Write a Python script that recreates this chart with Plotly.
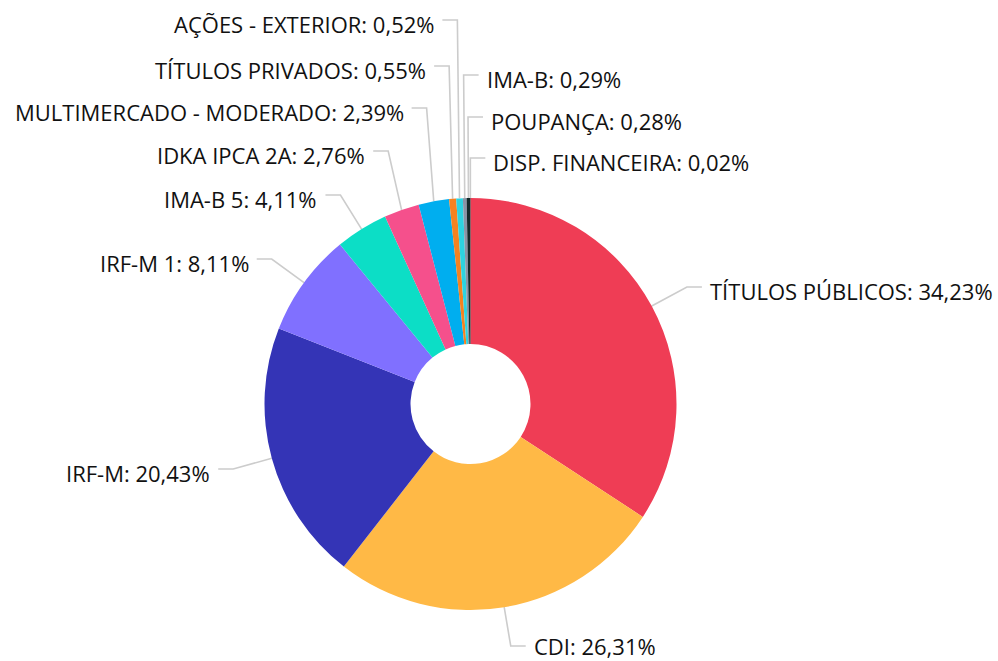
import math
import plotly.graph_objects as go

# ---- data ----
labels = ["TÍTULOS PÚBLICOS", "CDI", "IRF-M", "IRF-M 1", "IMA-B 5", "IDKA IPCA 2A",
          "MULTIMERCADO - MODERADO", "TÍTULOS PRIVADOS", "AÇÕES - EXTERIOR",
          "IMA-B", "POUPANÇA", "DISP. FINANCEIRA"]
values = [34.23, 26.31, 20.43, 8.11, 4.11, 2.76, 2.39, 0.55, 0.52, 0.29, 0.28, 0.02]
value_text = ["34,23%", "26,31%", "20,43%", "8,11%", "4,11%", "2,76%", "2,39%",
              "0,55%", "0,52%", "0,29%", "0,28%", "0,02%"]
colors = ["#EF3D55", "#FFB946", "#3434B6", "#8070FF", "#0CDEC6", "#F5508C",
          "#00AEEF", "#F58220", "#2DD3E0", "#8A94A6", "#15292A", "#000000"]

# ---- layout (screen pixels) ----
W, H = 998, 661
cx, cy, R = 470.5, 404, 206
R_elbow = 246
label_y = [287, 646, 469, 259, 195, 151, 108, 66, 20, 75, 117, 158]
text_dy = [4, 0, 4, 4, 4, 4, 4, 4, 4, 4, 4, 4]
seg = 15
gap = 6


def px_x(x):
    return x / W


def px_y(y):
    return (H - y) / H


fig = go.Figure()
fig.add_trace(go.Pie(
    labels=labels, values=values, sort=False, direction="clockwise", rotation=0,
    hole=60 / R, textinfo="none", hoverinfo="label+percent",
    marker=dict(colors=colors, line=dict(width=0)),
    domain=dict(x=[px_x(cx - R), px_x(cx + R)], y=[px_y(cy + R), px_y(cy - R)]),
    showlegend=False,
))

total = sum(values)
xs, ys = [], []
annotations = []
cum = 0
for lab, v, vt, ly, dy in zip(labels, values, value_text, label_y, text_dy):
    mid = (cum + v / 2) / total * 2 * math.pi
    cum += v
    s, c = math.sin(mid), math.cos(mid)
    x0, y0 = cx + R * s, cy - R * c
    ex = cx + R_elbow * s
    right = s >= 0
    if lab in ("IMA-B", "POUPANÇA", "DISP. FINANCEIRA"):
        right = True
    x2 = ex + seg if right else ex - seg
    xs += [x0, ex, x2, None]
    ys += [y0, ly, ly, None]
    annotations.append(dict(
        x=x2 + (gap if right else -gap), y=ly + dy, xref="x", yref="y",
        text=f"{lab}: {vt}", showarrow=False,
        xanchor="left" if right else "right", yanchor="middle",
        font=dict(family="Open Sans", size=22, color="#111111"),
    ))

fig.add_trace(go.Scatter(x=xs, y=ys, mode="lines", line=dict(color="#CCCCCC", width=1.6),
                         hoverinfo="skip", showlegend=False))

fig.update_layout(
    width=W, height=H, margin=dict(l=0, r=0, t=0, b=0),
    paper_bgcolor="white", plot_bgcolor="rgba(0,0,0,0)",
    xaxis=dict(range=[0, W], visible=False, fixedrange=True),
    yaxis=dict(range=[H, 0], visible=False, fixedrange=True),
    annotations=annotations,
    font=dict(family="Open Sans"),
)
fig.write_html(
    "out.html",
    config={"displayModeBar": False},
    post_script="document.body.style.margin='0px';document.body.style.overflow='hidden';",
)
